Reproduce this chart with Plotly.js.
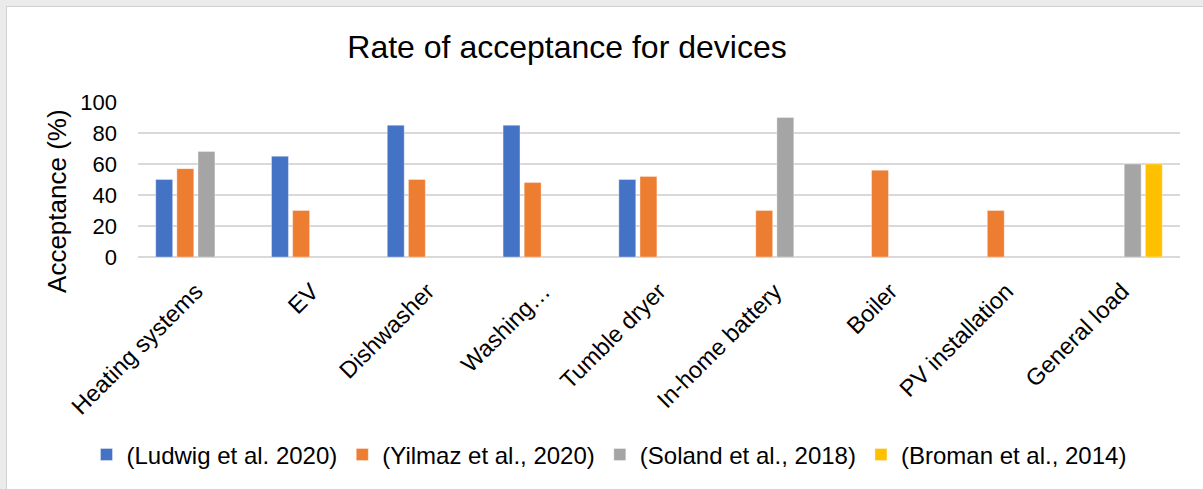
<!DOCTYPE html>
<html>
<head>
<meta charset="utf-8">
<script src="https://cdn.plot.ly/plotly-3.0.1.min.js"></script>
<style>
  html, body { margin: 0; padding: 0; background: #ebebeb; width: 1203px; height: 489px; overflow: hidden; }
  #frame { position: absolute; left: 6px; top: 6px; width: 1197px; height: 483px;
           border-left: 1px solid #d0d0d0; border-top: 1px solid #d0d0d0; background: #fff; }
  #chart { width: 1196px; height: 482px; }
</style>
</head>
<body>
<div id="frame"><div id="chart"></div></div>
<script>
const categories = ["Heating systems", "EV", "Dishwasher", "Washing…", "Tumble dryer",
                    "In-home battery", "Boiler", "PV installation", "General load"];
const ludwig  = [50, 65, 85, 85, 50, null, null, null, null];
const yilmaz  = [57, 30, 50, 48, 52, 30, 56, 30, null];
const soland  = [68, null, null, null, null, 90, null, null, 60];
const broman  = [null, null, null, null, null, null, null, null, 60];
const seriesNames = ["(Ludwig et al. 2020)", "(Yilmaz et al., 2020)", "(Soland et al., 2018)", "(Broman et al., 2014)"];
const yTicks = [0, 20, 40, 60, 80, 100];
const yTitle = "Acceptance (%)";
const chartTitle = "Rate of acceptance for devices";

const colors = ["#4472C4", "#ED7D31", "#A5A5A5", "#FFC000"];
const seriesVals = [ludwig, yilmaz, soland, broman];

const traces = seriesVals.map((vals, i) => ({
  type: "bar",
  name: seriesNames[i],
  x: categories,
  y: vals,
  marker: { color: colors[i], line: { color: "rgba(255,255,255,0.35)", width: 1 } },
  hoverinfo: "x+y+name"
}));

const font = "Liberation Sans, Arial, sans-serif";

const layout = {
  width: 1196,
  height: 482,
  paper_bgcolor: "#ffffff",
  plot_bgcolor: "#ffffff",
  font: { family: font, color: "#000" },
  margin: { l: 131, r: 23, t: 95, b: 228 },
  title: {
    text: chartTitle,
    font: { family: font, size: 32, color: "#000" },
    x: 560 / 1196, xanchor: "center",
    y: 1 - 40 / 482, yanchor: "middle"
  },
  barmode: "group",
  bargap: 0.27,
  bargroupgap: 0.2,
  xaxis: {
    type: "category",
    tickangle: -45,
    tickfont: { family: font, size: 23.5, color: "#000" },
    ticklabelstandoff: 15,
    showgrid: false,
    showline: false,
    ticks: "",
    automargin: false
  },
  yaxis: {
    range: [0, 100],
    tickvals: yTicks,
    ticktext: yTicks.map(String),
    tickfont: { family: font, size: 22, color: "#000" },
    ticklabelstandoff: 20,
    showgrid: true,
    gridcolor: "#d9d9d9",
    gridwidth: 1.5,
    zeroline: true,
    zerolinecolor: "#d9d9d9",
    zerolinewidth: 1.5,
    showline: false,
    ticks: "",
    automargin: false
  },
  annotations: [{
    text: yTitle,
    xref: "paper", yref: "paper",
    x: (50.5 - 131) / 1042, y: (254 - 197) / 159,
    xanchor: "center", yanchor: "middle",
    textangle: -90,
    showarrow: false,
    font: { family: font, size: 26, color: "#000" }
  }],
  legend: {
    orientation: "h",
    x: 0.452, xanchor: "center",
    y: -(457 - 254) / 159, yanchor: "middle",
    font: { family: font, size: 24, color: "#000" },
    itemwidth: 30,
    traceorder: "normal"
  },
  showlegend: true
};

Plotly.newPlot("chart", traces, layout, { displayModeBar: false, staticPlot: true });
</script>
</body>
</html>
